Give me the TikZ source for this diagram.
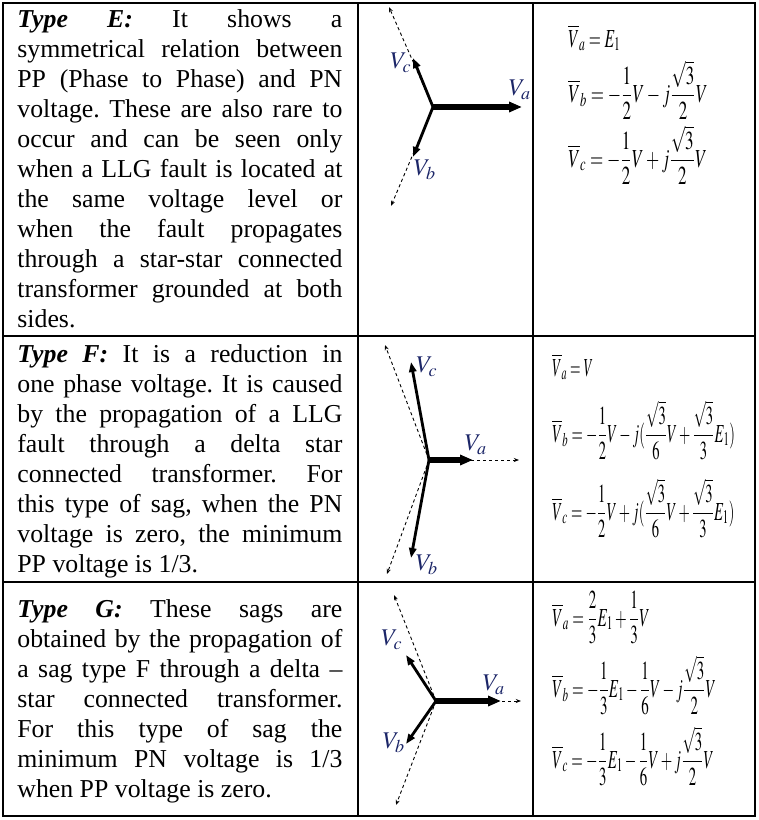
\documentclass[tikz,border=0pt]{standalone}
\usepackage{amsmath}
\usepackage{mathptmx}
\usepackage{fontspec}
\setmainfont{Liberation Serif}
\usepackage{graphicx}
\usetikzlibrary{arrows.meta}
\definecolor{lblblue}{RGB}{28,38,104}
\newcommand{\sageq}[2]{\scalebox{#1}[1]{$\displaystyle #2$}}
\newcommand{\sagtype}[1]{\textbf{\textit{Type #1:}}}
\tolerance=10000
\hyphenpenalty=10000
\exhyphenpenalty=10000
\frenchspacing

\begin{document}
\begin{tikzpicture}[x=0.5pt, y=-0.5pt,
    grid/.style = {line width=0.7pt},
    typetext/.style = {anchor=north west, inner sep=0pt, text width=162.5pt, align=justify,
                       font=\fontsize{12.9}{15}\selectfont},
    eqn/.style = {anchor=base west, inner sep=0pt, font=\fontsize{13}{15}\selectfont},
    bigphasor/.style = {line width=2.6pt, -{Triangle[length=6.5pt, width=5pt]}},
    phasor/.style = {line width=1.4pt, -{Triangle[length=5pt, width=3.6pt]}},
    refline/.style = {line width=0.45pt, dash pattern=on 1.6pt off 1.4pt, -{Stealth[length=2.6pt, width=2pt]}},
    plabel/.style = {inner sep=0pt, text=lblblue, font=\fontsize{12}{14}\selectfont}]
    \useasboundingbox (0,0) rectangle (759,820);

    % table
    \draw[grid] (3,3) rectangle (755,816);
    \draw[grid] (358,3) -- (358,816);
    \draw[grid] (533,3) -- (533,816);
    \draw[grid] (3,336) -- (755,336);
    \draw[grid] (3,582) -- (755,582);

    % descriptions
    \node[typetext] (typeE) at (17,5.7) {\strut\sagtype{E} It shows a\linebreak
      symmetrical relation between\linebreak PP (Phase to Phase) and PN\linebreak
      voltage. These are also rare to\linebreak occur and can be seen only\linebreak
      when a LLG fault is located at\linebreak the same voltage level or\linebreak
      when the fault propagates\linebreak through a star-star connected\linebreak
      transformer grounded at both\linebreak sides.};
    \node[typetext] (typeF) at (17,340.7) {\strut\sagtype{F} It is a reduction in\linebreak
      one phase voltage. It is caused\linebreak by the propagation of a LLG\linebreak
      fault through a delta star\linebreak connected transformer. For\linebreak
      this type of sag, when the PN\linebreak voltage is zero, the minimum\linebreak
      PP voltage is 1/3.};
    \node[typetext] (typeG) at (17,595.7) {\strut\sagtype{G} These sags are\linebreak
      obtained by the propagation of\linebreak a sag type F through a delta --\linebreak
      star connected transformer.\linebreak For this type of sag the\linebreak
      minimum PN voltage is 1/3\linebreak when PP voltage is zero.};

    % phasors, type E
    \coordinate (oE) at (433,107);
    \coordinate (aE) at (522,107);
    \coordinate (bE) at (413,157);
    \coordinate (cE) at (413,58);
    \coordinate (bEd) at (391,206);
    \coordinate (cEd) at (389,7);
    \draw[refline] (oE) -- (bEd);
    \draw[refline] (oE) -- (cEd);
    \draw[bigphasor] (oE) -- (aE);
    \draw[phasor] (oE) -- (bE);
    \draw[phasor] (oE) -- (cE);
    \node[plabel] (laE) at (520,90) {$V_a$};
    \node[plabel] (lbE) at (425,170) {$V_b$};
    \node[plabel] (lcE) at (401,63) {$V_c$};

    % phasors, type F
    \coordinate (oF) at (429,460);
    \coordinate (aF) at (473,460);
    \coordinate (aFd) at (519,460);
    \coordinate (bF) at (411,558);
    \coordinate (cF) at (411,362);
    \coordinate (bFd) at (387,574);
    \coordinate (cFd) at (385,345);
    \draw[refline] (oF) -- (aFd);
    \draw[refline] (oF) -- (bFd);
    \draw[refline] (oF) -- (cFd);
    \draw[bigphasor] (oF) -- (aF);
    \draw[phasor] (oF) -- (bF);
    \draw[phasor] (oF) -- (cF);
    \node[plabel] (laF) at (476,445) {$V_a$};
    \node[plabel] (lbF) at (427,565) {$V_b$};
    \node[plabel] (lcF) at (427,367) {$V_c$};

    % phasors, type G
    \coordinate (oG) at (436,701);
    \coordinate (aG) at (501,701);
    \coordinate (aGd) at (521,701);
    \coordinate (bG) at (406,744);
    \coordinate (cG) at (406,655);
    \coordinate (bGd) at (396,805);
    \coordinate (cGd) at (394,595);
    \draw[refline] (oG) -- (aGd);
    \draw[refline] (oG) -- (bGd);
    \draw[refline] (oG) -- (cGd);
    \draw[bigphasor] (oG) -- (aG);
    \draw[phasor] (oG) -- (bG);
    \draw[phasor] (oG) -- (cG);
    \node[plabel] (laG) at (494,685) {$V_a$};
    \node[plabel] (lbG) at (394,743) {$V_b$};
    \node[plabel] (lcG) at (392,640) {$V_c$};

    % equations
    \node[eqn] (vaE) at (568,47) {\sageq{0.6}{\overline{V}_a = E_1}};
    \node[eqn] (vbE) at (568,102) {\sageq{0.655}{\overline{V}_b = -\frac{1}{2}V - j\frac{\sqrt{3}}{2}V}};
    \node[eqn] (vcE) at (568,167) {\sageq{0.655}{\overline{V}_c = -\frac{1}{2}V + j\frac{\sqrt{3}}{2}V}};
    \node[eqn] (vaF) at (552,376) {\sageq{0.52}{\overline{V}_a = V}};
    \node[eqn] (vbF) at (552,442) {\sageq{0.56}{\overline{V}_b = -\frac{1}{2}V - j(\frac{\sqrt{3}}{6}V + \frac{\sqrt{3}}{3}E_1)}};
    \node[eqn] (vcF) at (552,520) {\sageq{0.56}{\overline{V}_c = -\frac{1}{2}V + j(\frac{\sqrt{3}}{6}V + \frac{\sqrt{3}}{3}E_1)}};
    \node[eqn] (vaG) at (552,626) {\sageq{0.58}{\overline{V}_a = \frac{2}{3}E_1 + \frac{1}{3}V}};
    \node[eqn] (vbG) at (552,697) {\sageq{0.575}{\overline{V}_b = -\frac{1}{3}E_1 - \frac{1}{6}V - j\frac{\sqrt{3}}{2}V}};
    \node[eqn] (vcG) at (552,768) {\sageq{0.57}{\overline{V}_c = -\frac{1}{3}E_1 - \frac{1}{6}V + j\frac{\sqrt{3}}{2}V}};
\end{tikzpicture}
\end{document}
